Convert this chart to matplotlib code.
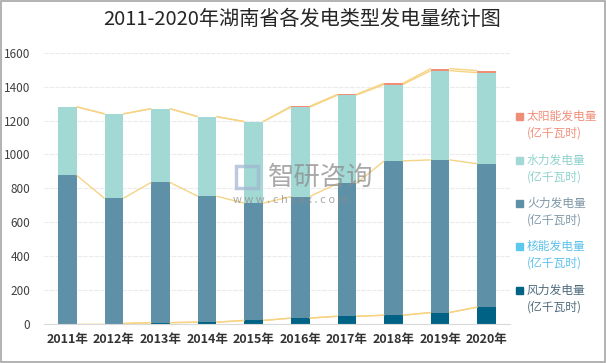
#湖南省各发电类型发电量 2011-2020 stacked bars with series lines
import numpy as np
import matplotlib.pyplot as plt
from matplotlib.patches import Rectangle

plt.rcParams['font.family'] = ['Noto Sans CJK SC', 'DejaVu Sans']

years = ['2011年', '2012年', '2013年', '2014年', '2015年',
         '2016年', '2017年', '2018年', '2019年', '2020年']
wind = [0, 0, 5, 8, 18, 32, 43, 49, 65, 97]
nuclear = [0, 0, 0, 0, 0, 0, 0, 0, 0, 0]
thermal = [877, 740, 830, 745, 694, 719, 786, 913, 903, 848]
hydro = [405, 500, 436, 471, 482, 529, 522, 452, 528, 539]
solar = [0, 0, 0, 0, 1, 5, 5, 7, 12, 12]

names = ['风力发电量', '核能发电量', '火力发电量', '水力发电量', '太阳能发电量']
colors = ['#006386', '#5CC8EE', '#5E91A8', '#A3D9D5', '#EE8E76']
text_colors = ['#4E6B7C', '#5CC2EA', '#7F98A8', '#8ED2CC', '#F08F7A']
series = [wind, nuclear, thermal, hydro, solar]

fig = plt.figure(figsize=(6.06, 3.63), dpi=100)
ax = fig.add_axes([0.0726, 0.1088, 0.769, 0.745])

x = np.arange(len(years))
w = 0.4
bottom = np.zeros(len(years))
tops = []
for vals, c in zip(series, colors):
    vals = np.array(vals, dtype=float)
    ax.bar(x, vals, w, bottom=bottom, color=c, zorder=2)
    bottom = bottom + vals
    tops.append(bottom.copy())

# series lines between bars, like excel
for t in tops:
    for i in range(len(years) - 1):
        ax.plot([x[i] + w / 2, x[i + 1] - w / 2], [t[i], t[i + 1]],
                color='#F7D384', lw=1.0, zorder=3, solid_capstyle='butt')

ax.set_xlim(-0.5, len(years) - 0.5)
ax.set_ylim(0, 1600)
ax.set_yticks(range(0, 1601, 200))
ax.set_xticks(x)
ax.set_xticklabels(years, fontsize=9, fontweight='bold', color='#333333')
ax.tick_params(axis='y', labelsize=8.5, labelcolor='#404040', length=0, pad=10)
ax.tick_params(axis='x', length=0, pad=7)
ax.grid(axis='y', color='#EBEBEB', lw=0.8, ls=(0, (4, 1)), zorder=0)
for s in ['left', 'right', 'top']:
    ax.spines[s].set_visible(False)
ax.spines['bottom'].set_color('#D9D9D9')
ax.set_axisbelow(True)

fig.text(0.498, 0.945, '2011-2020年湖南省各发电类型发电量统计图',
         ha='center', va='center', fontsize=14.5, color='#262626')

# legend, top to bottom: solar, hydro, thermal, nuclear, wind
leg_y = [116, 160, 203, 246, 290]
for k, yy in zip([4, 3, 2, 1, 0], leg_y):
    fy = 1 - yy / 363
    fig.add_artist(Rectangle((516 / 606, fy - 3.5 / 363), 6.5 / 606, 6.5 / 363,
                             transform=fig.transFigure, color=colors[k]))
    fig.text(527 / 606, fy, names[k], fontsize=8.5, color=text_colors[k],
             va='center', ha='left')
    fig.text(527 / 606, fy - 17 / 363, '(亿千瓦时)', fontsize=8.5,
             color=text_colors[k], va='center', ha='left')

# watermark
fig.text(268 / 606, 1 - 177 / 363, '智研咨询', fontsize=19, color='#8C8C8C',
         alpha=0.75, va='center', ha='left', zorder=5)
fig.text(233 / 606, 1 - 200 / 363, 'w w w . c h y x x . c o m', fontsize=8,
         color='#8C8C8C', alpha=0.75, va='center', ha='left', zorder=5)
fig.add_artist(Rectangle((236 / 606, 1 - 188 / 363), 22 / 606, 22 / 363,
                         transform=fig.transFigure, fill=False,
                         edgecolor='#9FB4D0', lw=2.5, alpha=0.7, zorder=5))

fig.add_artist(Rectangle((0.001, 0.002), 0.997, 0.996, transform=fig.transFigure,
                         fill=False, edgecolor='#A6A6A6', lw=1.2))

fig.savefig('out.png', dpi=100)
